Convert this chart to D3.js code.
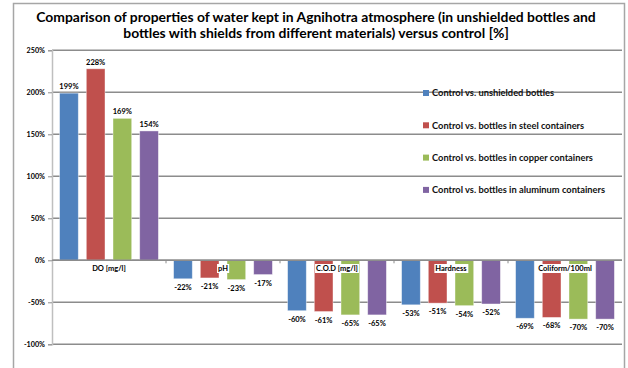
<!DOCTYPE html>
<html><head><meta charset="utf-8">
<script src="https://cdn.jsdelivr.net/npm/d3@7"></script>
<style>
html,body{margin:0;padding:0;background:#fff;}
svg{display:block;font-family:Lato,"Open Sans",sans-serif;}
</style></head>
<body>
<svg id="chart" width="628" height="368"></svg>
<script>
const titleLines = ["Comparison of properties of water kept in Agnihotra atmosphere (in unshielded bottles and",
  "bottles with shields from different materials) versus control [%]"];
const categories = ["DO [mg/l]", "pH", "C.O.D [mg/l]", "Hardness", "Coliform/100ml"];
const seriesNames = ["Control vs. unshielded bottles", "Control vs. bottles in steel containers",
  "Control vs. bottles in copper containers", "Control vs. bottles in aluminum containers"];
const unshielded = [199, -22, -60, -53, -69];
const steel = [228, -21, -61, -51, -68];
const copper = [169, -23, -65, -54, -70];
const aluminum = [154, -17, -65, -52, -70];
const seriesValues = [unshielded, steel, copper, aluminum];
const colors = ["#4F81BD", "#C0504D", "#9BBB59", "#8064A2"];
const yTicks = [-100, -50, 0, 50, 100, 150, 200, 250];

const svg = d3.select("#chart");
// outer frame
svg.append("path").attr("d", "M13.5,368 L13.5,3.5 L624.5,3.5 L624.5,368")
  .attr("fill", "none").attr("stroke", "#a6a6a6").attr("stroke-width", 1.5);

// title
svg.append("g").selectAll("text").data(titleLines).join("text")
  .attr("x", 316).attr("y", (d, i) => 22 + i * 16)
  .attr("text-anchor", "middle").attr("font-weight", "bold").attr("font-size", 13.9)
  .attr("fill", "#000").text(d => d);

const left = 52, right = 622;
const y = d3.scaleLinear().domain([-100, 250]).range([344.3, 50.3]);
const x0 = d3.scaleBand().domain(categories).range([left, right]).padding(0);
const x1 = d3.scaleBand().domain(d3.range(4)).range([0, x0.bandwidth()]).paddingInner(0.3).paddingOuter(0.285);

// gridlines
svg.append("g").selectAll("line").data(yTicks).join("line")
  .attr("x1", left).attr("x2", right)
  .attr("y1", d => y(d)).attr("y2", d => y(d))
  .attr("stroke", "#8c8c8c").attr("stroke-width", 1.5);

// y axis
const yAxis = svg.append("g").attr("transform", `translate(${left},0)`)
  .call(d3.axisLeft(y).tickValues(yTicks).tickFormat(d => d + "%").tickSize(4).tickPadding(3));
yAxis.select(".domain").attr("stroke", "#bfbfbf").attr("stroke-width", 1.5);
yAxis.selectAll(".tick line").attr("stroke", "#8c8c8c");
yAxis.selectAll(".tick text").attr("font-size", 7.2).attr("font-weight", "bold")
  .attr("font-family", "Lato, sans-serif").attr("fill", "#000");

// bars
const data = [];
categories.forEach((c, ci) => seriesValues.forEach((vals, si) => data.push({c, si, v: vals[ci]})));
const bars = svg.append("g");
bars.selectAll("rect").data(data).join("rect")
  .attr("x", d => x0(d.c) + x1(d.si))
  .attr("width", x1.bandwidth())
  .attr("y", d => y(Math.max(0, d.v)))
  .attr("height", d => Math.abs(y(d.v) - y(0)))
  .attr("fill", d => colors[d.si])
  .attr("stroke", "#ffffff").attr("stroke-opacity", 0.5).attr("stroke-width", 0.8);

// zero line on top
svg.append("line").attr("x1", left).attr("x2", right).attr("y1", y(0)).attr("y2", y(0))
  .attr("stroke", "#8c8c8c").attr("stroke-width", 1.5);
// category ticks
svg.append("g").selectAll("line").data(categories.slice(1)).join("line")
  .attr("x1", d => x0(d)).attr("x2", d => x0(d))
  .attr("y1", y(0)).attr("y2", y(0) + 3)
  .attr("stroke", "#8c8c8c").attr("stroke-width", 1);

// data labels
svg.append("g").selectAll("text").data(data).join("text")
  .attr("x", d => x0(d.c) + x1(d.si) + x1.bandwidth() / 2)
  .attr("y", d => d.v >= 0 ? y(d.v) - 4 : y(d.v) + 11)
  .attr("text-anchor", "middle").attr("font-size", 7.5).attr("font-weight", "bold")
  .attr("fill", "#000").text(d => d.v + "%");

// category labels with white background
const catG = svg.append("g").selectAll("g").data(categories).join("g");
catG.append("text")
  .attr("x", d => x0(d) + x0.bandwidth() / 2).attr("y", 271)
  .attr("text-anchor", "middle").attr("font-size", 7.5).attr("font-weight", "bold")
  .attr("fill", "#000").text(d => d);
catG.each(function() {
  const t = d3.select(this).select("text");
  const b = t.node().getBBox();
  d3.select(this).insert("rect", "text").attr("x", b.x - 1).attr("y", b.y)
    .attr("width", b.width + 2).attr("height", b.height).attr("fill", "#fff");
});

// legend
const lg = svg.append("g").selectAll("g").data(seriesNames).join("g")
  .attr("transform", (d, i) => `translate(423,${93 + i * 32.3})`);
lg.append("rect").attr("x", 0).attr("y", -3).attr("width", 6).attr("height", 6)
  .attr("fill", (d, i) => colors[i]);
lg.append("text").attr("x", 9).attr("y", 3.2).attr("font-size", 9.3).attr("font-weight", "bold")
  .attr("fill", "#111").text(d => d);
</script>
</body></html>
